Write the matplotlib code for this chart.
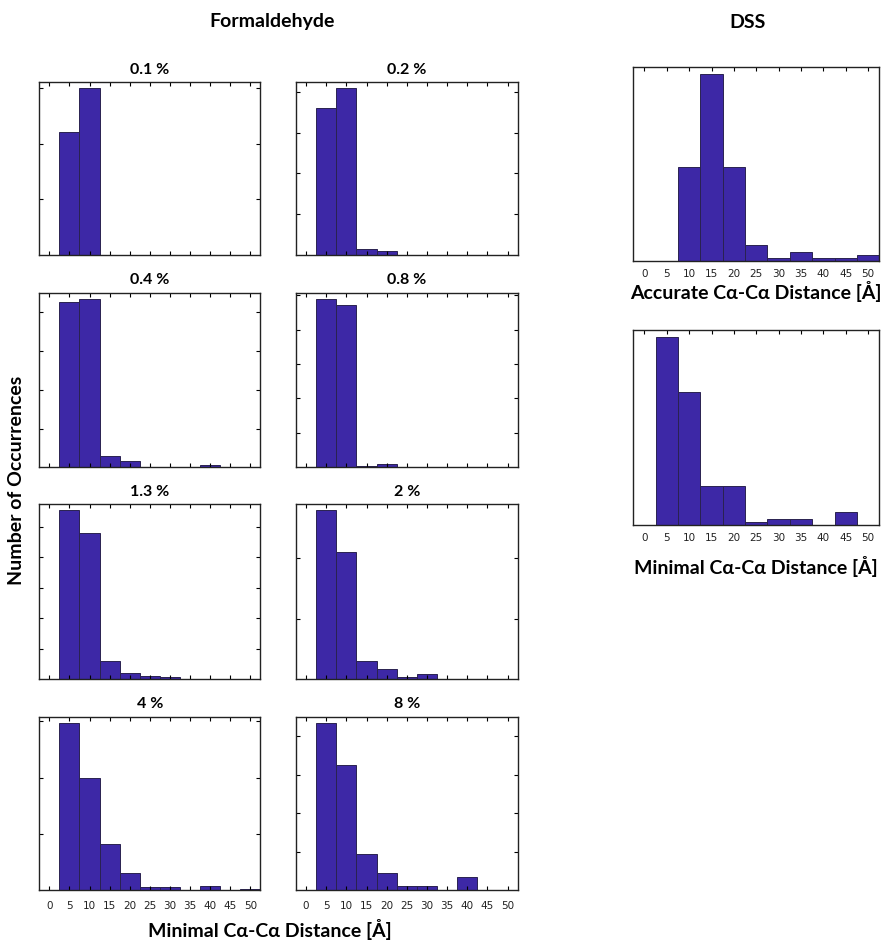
import matplotlib

matplotlib.use("Agg")
import matplotlib.pyplot as plt
import numpy as np

# bin centres of the distance histograms (Å), 5 Å wide
bin_centers = [5, 10, 15, 20, 25, 30, 35, 40, 45, 50]
tick_values = [0, 5, 10, 15, 20, 25, 30, 35, 40, 45, 50]

# formaldehyde concentrations and their counts per bin
fa_labels = ["0.1 %", "0.2 %", "0.4 %", "0.8 %", "1.3 %", "2 %", "4 %", "8 %"]
fa_01 = [22, 30, 0, 0, 0, 0, 0, 0, 0, 0]
fa_02 = [72, 82, 3, 2, 0, 0, 0, 0, 0, 0]
fa_04 = [85, 87, 6, 3, 0, 0, 0, 1, 0, 0]
fa_08 = [98, 94, 1, 2, 0, 0, 0, 0, 0, 0]
fa_13 = [111, 96, 12, 4, 2, 1, 0, 0, 0, 0]
fa_2 = [140, 105, 15, 8, 2, 4, 0, 0, 0, 0]
fa_4 = [149, 100, 41, 15, 3, 3, 0, 4, 0, 1]
fa_8 = [87, 65, 19, 9, 2, 2, 0, 7, 0, 0]
fa_counts = [fa_01, fa_02, fa_04, fa_08, fa_13, fa_2, fa_4, fa_8]
fa_ytick_step = [10, 20, 20, 20, 20, 50, 50, 20]

# DSS counts
dss_accurate = [0, 30, 60, 30, 5, 1, 3, 1, 1, 2]
dss_minimal = [58, 41, 12, 12, 1, 2, 2, 0, 4, 0]

BAR = "#3d28a6"
EDGE = "#2a2250"
W, H = 885, 943
TITLE_FONT = ["Lato", "DejaVu Sans"]
TICK_FONT = ["DejaVu Sans"]


def px_axes(fig, x0, y0, x1, y1):
    return fig.add_axes([x0 / W, 1 - y1 / H, (x1 - x0) / W, (y1 - y0) / H])


def draw_hist(ax, counts, show_xlabels, ytick_step=None, frame_ticks=True):
    ax.bar(bin_centers, counts, width=5, color=BAR, edgecolor=EDGE, linewidth=0.7)
    ax.set_xlim(-2.5, 52.5)
    ax.set_ylim(0, max(counts) * 1.035)
    ax.set_xticks(tick_values)
    for side in ax.spines.values():
        side.set_linewidth(1.0)
        side.set_color("#222222")
    if frame_ticks:
        ax.tick_params(axis="x", direction="in", length=3, top=True, bottom=True, width=0.8)
        ax.set_yticks(np.arange(ytick_step, max(counts) * 1.035, ytick_step))
        ax.tick_params(axis="y", direction="in", length=3, left=True, right=True,
                       labelleft=False, width=0.8)
    else:
        ax.tick_params(axis="x", direction="in", length=3, top=True, bottom=False, width=0.8)
        ax.set_yticks([])
    if show_xlabels:
        ax.set_xticklabels([str(v) for v in tick_values], fontsize=7.5,
                           family=TICK_FONT, color="#222222")
        ax.tick_params(axis="x", pad=8)
    else:
        ax.set_xticklabels([])


fig = plt.figure(figsize=(W / 100, H / 100), dpi=100)

cols = [(39.3, 260.3), (296, 517.7)]
rows = [(82, 255), (292.7, 467.3), (504.3, 679), (716.7, 890.3)]

for i, (label, counts) in enumerate(zip(fa_labels, fa_counts)):
    r, c = divmod(i, 2)
    x0, x1 = cols[c]
    y0, y1 = rows[r]
    ax = px_axes(fig, x0, y0, x1, y1)
    draw_hist(ax, counts, show_xlabels=(r == 3), ytick_step=fa_ytick_step[i])
    ax.set_title(label, fontsize=11.5, fontweight="bold", family=TITLE_FONT, pad=6)

ax_acc = px_axes(fig, 633.3, 67.3, 879.3, 261)
draw_hist(ax_acc, dss_accurate, show_xlabels=True, frame_ticks=False)
ax_acc.tick_params(axis="x", pad=6)
ax_acc.set_xlabel("Accurate Cα-Cα Distance [Å]", fontsize=14, fontweight="bold",
                  family=TITLE_FONT, labelpad=1)

ax_min = px_axes(fig, 633.3, 330, 879.3, 525)
draw_hist(ax_min, dss_minimal, show_xlabels=True, frame_ticks=False)
ax_min.tick_params(axis="x", pad=6)
ax_min.set_xlabel("Minimal Cα-Cα Distance [Å]", fontsize=14, fontweight="bold",
                  family=TITLE_FONT, labelpad=9)

fig.text(272 / W, 1 - 22 / H, "Formaldehyde", ha="center", va="center",
         fontsize=14, fontweight="bold", family=TITLE_FONT)
fig.text(748 / W, 1 - 22 / H, "DSS", ha="center", va="center",
         fontsize=14, fontweight="bold", family=TITLE_FONT)
fig.text(270 / W, 1 - 930 / H, "Minimal Cα-Cα Distance [Å]", ha="center", va="center",
         fontsize=14, fontweight="bold", family=TITLE_FONT)
fig.text(17 / W, 1 - 480 / H, "Number of Occurrences", ha="center", va="center",
         rotation=90, fontsize=14, fontweight="bold", family=TITLE_FONT)

fig.savefig("out.png", dpi=100)
plt.close(fig)
